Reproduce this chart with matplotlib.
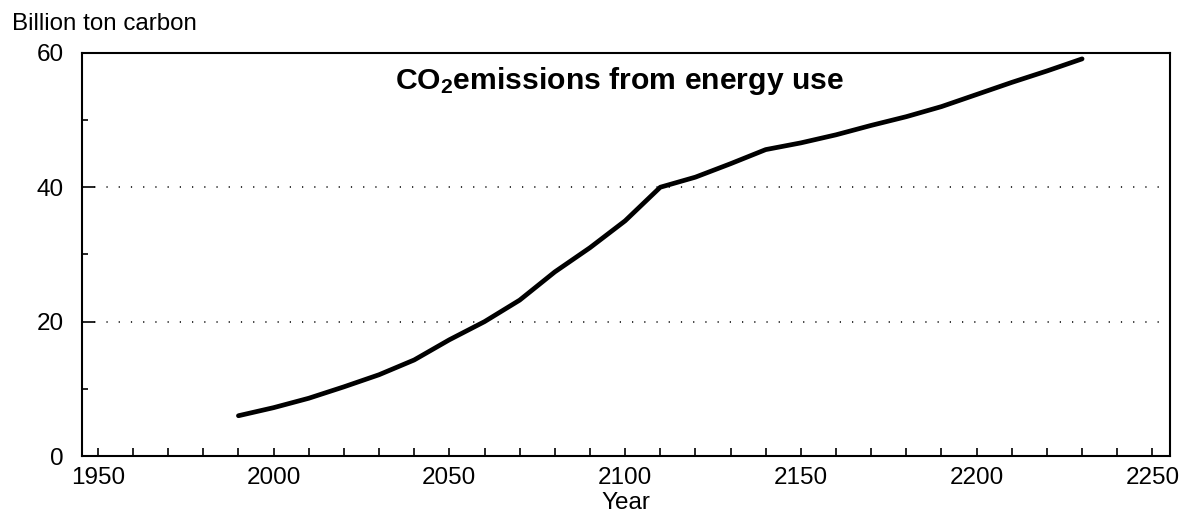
import matplotlib
matplotlib.use("Agg")
import matplotlib.pyplot as plt
from matplotlib.ticker import MultipleLocator

plt.rcParams['font.family'] = ['Liberation Sans', 'DejaVu Sans']
plt.rcParams['mathtext.default'] = 'regular'

# CO2 emissions from energy use, billion ton carbon
years = [1990, 2000, 2010, 2020, 2030, 2040, 2050, 2060, 2070, 2080, 2090,
         2100, 2110, 2120, 2130, 2140, 2150, 2160, 2170, 2180, 2190, 2200,
         2210, 2220, 2230]
emissions = [6.0, 7.2, 8.6, 10.3, 12.1, 14.3, 17.3, 20.0, 23.2, 27.4, 31.0,
             35.0, 40.0, 41.5, 43.5, 45.6, 46.6, 47.8, 49.2, 50.5, 52.0, 53.8,
             55.6, 57.3, 59.1]
x_ticks = [1950, 2000, 2050, 2100, 2150, 2200, 2250]
y_ticks = [0, 20, 40, 60]
grid_levels = [20, 40]

fig = plt.figure(figsize=(11.8, 5.23), dpi=100)
ax = fig.add_axes([0.0695, 0.128, 0.922, 0.771])

ax.plot(years, emissions, color='black', linewidth=3.4, solid_capstyle='round')

for lvl in grid_levels:
    ax.axhline(lvl, color='black', linewidth=1.1, linestyle=(0, (0.8, 7.2)), zorder=0)

ax.set_xlim(1945.5, 2255)
ax.set_ylim(0, 60)
ax.set_xticks(x_ticks)
ax.xaxis.set_minor_locator(MultipleLocator(10))
ax.set_yticks(y_ticks)
ax.yaxis.set_minor_locator(MultipleLocator(10))

ax.tick_params(axis='x', which='both', direction='in', length=6, width=1.2,
               labelsize=17.5, pad=8)
ax.tick_params(axis='y', which='major', direction='in', length=9, width=1.2,
               labelsize=17.5, pad=13)
ax.tick_params(axis='y', which='minor', direction='in', length=4.5, width=1.2)

for sp in ax.spines.values():
    sp.set_linewidth(1.5)

ax.set_xlabel('Year', fontsize=17.5, labelpad=2)
ax.text(0.4936, 0.93, 'CO$_2$emissions from energy use', transform=ax.transAxes,
        ha='center', va='center', fontsize=21.7, fontweight='bold')
fig.text(0.01, 0.955, 'Billion ton carbon', fontsize=17.4, ha='left', va='center')

fig.savefig('out.png', dpi=100)
